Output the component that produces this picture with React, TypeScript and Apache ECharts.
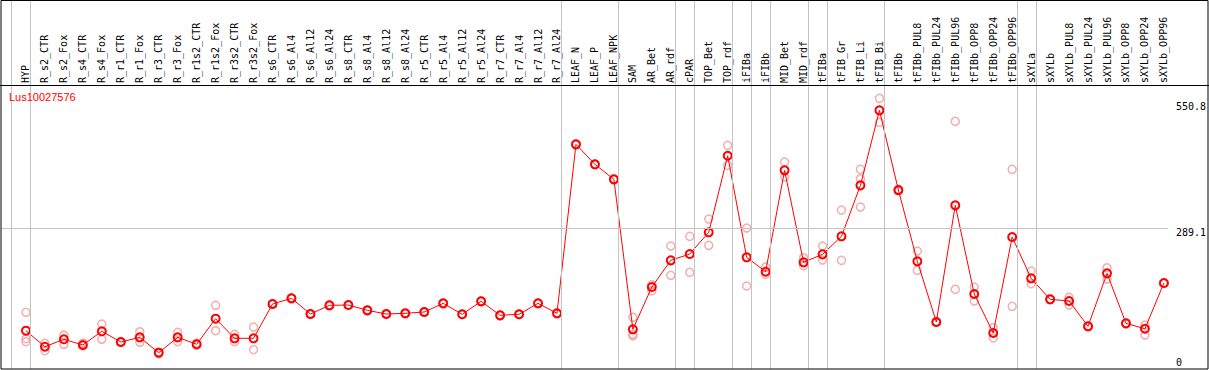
import React, { useEffect, useRef } from "react";
import * as echarts from "echarts";

const chartTitle = "Lus10027576";

const categories = [
  "HYP", "R_s2_CTR", "R_s2_Fox", "R_s4_CTR", "R_s4_Fox", "R_r1_CTR", "R_r1_Fox", "R_r3_CTR", "R_r3_Fox",
  "R_r1s2_CTR", "R_r1s2_Fox", "R_r3s2_CTR", "R_r3s2_Fox", "R_s6_CTR", "R_s6_Al4", "R_s6_Al12", "R_s6_Al24",
  "R_s8_CTR", "R_s8_Al4", "R_s8_Al12", "R_s8_Al24", "R_r5_CTR", "R_r5_Al4", "R_r5_Al12", "R_r5_Al24",
  "R_r7_CTR", "R_r7_Al4", "R_r7_Al12", "R_r7_Al24", "LEAF_N", "LEAF_P", "LEAF_NPK", "SAM", "AR_Bet", "AR_rdf",
  "cPAR", "TOP_Bet", "TOP_rdf", "iFIBa", "iFIBb", "MID_Bet", "MID_rdf", "tFIBa", "tFIB_Gr", "tFIB_Li", "tFIB_Bi",
  "tFIBb", "tFIBb_PUL8", "tFIBb_PUL24", "tFIBb_PUL96", "tFIBb_OPP8", "tFIBb_OPP24", "tFIBb_OPP96",
  "sXYLa", "sXYLb", "sXYLb_PUL8", "sXYLb_PUL24", "sXYLb_PUL96", "sXYLb_OPP8", "sXYLb_OPP24", "sXYLb_OPP96",
];

const meanValues = [
  60.7, 25.1, 41.6, 28.9, 59.4, 35.6, 46.0, 11.8, 46.0,
  30.5, 87.4, 43.8, 43.8, 120.1, 132.7, 97.8, 117.2,
  117.8, 106.0, 97.8, 99.4, 102.3, 121.6, 97.2, 126.1,
  94.9, 97.2, 121.6, 99.4, 475.1, 430.6, 397.3, 63.8, 157.8, 217.2,
  231.2, 279.5, 449.8, 223.9, 191.9, 417.3, 212.8, 230.5, 270.6, 383.9, 550.8,
  373.5, 215.0, 80.0, 339.5, 142.3, 55.6, 269.0,
  177.2, 130.5, 126.7, 70.5, 188.3, 77.1, 65.1, 166.7,
];

const replicateValues: number[][] = [
  [101.6, 42.9, 36.2], [32.7, 16.2], [51.1, 30.5], [33.3, 26.7], [75.6, 41.6], [34.5, 36.7], [58.5, 34.9], [13.3, 8.9], [57.1, 36.2],
  [33.3, 28.2], [117.2, 60.7], [52.7, 36.2], [68.9, 18.5], [119.2, 121.0], [131.8, 133.6], [97.0, 98.6], [116.3, 118.1],
  [117.0, 118.6], [105.2, 106.8], [97.0, 98.6], [98.6, 100.2], [101.5, 103.1], [120.8, 122.4], [96.4, 98.0], [125.3, 126.9],
  [94.1, 95.7], [96.4, 98.0], [120.8, 122.4], [98.6, 100.2], [474.3, 475.9], [429.8, 431.4], [396.5, 398.1], [90.5, 52.7, 48.9], [163.0, 149.6], [249.0, 183.9],
  [270.6, 190.5], [309.0, 250.6], [472.9, 428.4], [289.0, 160.1], [202.3, 186.1], [435.7, 402.4], [223.0, 205.2], [249.0, 217.9], [329.0, 217.2], [419.5, 398.6, 335.7], [577.4, 524.0],
  [375.0, 371.5], [237.9, 195.0], [79.2, 80.8], [526.2, 152.7], [157.8, 126.7], [67.4, 44.5], [419.5, 114.9],
  [193.4, 165.2], [129.7, 131.3], [134.9, 117.8], [69.7, 71.3], [200.8, 175.6], [76.3, 77.9], [73.4, 51.1], [165.9, 167.5],
];

// index of the last category of each group (a separator is drawn just after it)
const groupEnds = [-1, 0, 28, 31, 34, 35, 37, 38, 39, 41, 42, 45, 52, 53, 60];

const yTickValues = [0, 289.1, 550.8];
const yTickLabels = ["0", "289.1", "550.8"];

const MONO = "DejaVu Sans Mono";
const RED = "#ff0000";
const REP = "#f09a9a";
const GRID_GRAY = "#c4c4c4";

export default function App() {
  const ref = useRef<HTMLDivElement>(null);

  useEffect(() => {
    document.body.style.margin = "0";
    if (!ref.current) return;
    const chart = echarts.init(ref.current, undefined, { renderer: "svg" });

    const W = 1209;
    const H = 370;
    const plotLeft = 1;
    const plotRight = 1170;
    const step = 19;
    const firstX = 26;
    const zeroY = 358;
    const pxPerUnit = 130 / 289.1;

    const xMin = (plotLeft - firstX) / step;
    const xMax = (plotRight - firstX) / step;
    const yMin = -(H - 1 - zeroY) / pxPerUnit;
    const yMax = zeroY / pxPerUnit;

    const lineData = meanValues.map((v, i) => [i, v]);
    const repData: number[][] = [];
    replicateValues.forEach((arr, i) => arr.forEach((v) => repData.push([i, v])));

    const sepOffset = 4.7 / step;

    chart.setOption({
      animation: false,
      backgroundColor: "#ffffff",
      title: {
        text: chartTitle,
        left: 9,
        top: 91,
        padding: 0,
        textStyle: { color: RED, fontSize: 11, fontWeight: "normal", fontFamily: "Liberation Sans" },
      },
      grid: { left: plotLeft, right: W - plotRight, top: 0, bottom: H - 369, containLabel: false },
      xAxis: {
        type: "value",
        position: "top",
        offset: -85,
        min: xMin,
        max: xMax,
        axisLine: { show: false, onZero: false },
        axisTick: { show: false },
        splitLine: { show: false },
        axisLabel: {
          customValues: categories.map((_, i) => i),
          formatter: (v: number) => categories[Math.round(v)] ?? "",
          rotate: -90,
          align: "left",
          verticalAlign: "middle",
          margin: 2,
          color: "#000",
          fontFamily: MONO,
          fontSize: 10,
        },
      },
      yAxis: {
        type: "value",
        position: "right",
        min: yMin,
        max: yMax,
        axisLine: { show: false, onZero: false },
        axisTick: { show: false },
        splitLine: { show: false },
        axisLabel: {
          customValues: yTickValues,
          margin: 8,
          verticalAlign: "middle",
          color: "#000",
          fontFamily: MONO,
          fontSize: 10,
          formatter: (v: number) => {
            const idx = yTickValues.findIndex((t) => Math.abs(t - v) < 1e-6);
            const s = idx >= 0 ? yTickLabels[idx] : "";
            return idx === yTickValues.length - 1 ? `{hi|${s}}` : `{lo|${s}}`;
          },
          rich: {
            hi: { padding: [0, 0, 8, 0], fontFamily: MONO, fontSize: 10, color: "#000" },
            lo: { padding: [8, 0, 0, 0], fontFamily: MONO, fontSize: 10, color: "#000" },
          },
        },
      },
      series: [
        {
          type: "scatter",
          data: repData,
          symbol: "circle",
          symbolSize: 8,
          itemStyle: { color: "rgba(0,0,0,0)", borderColor: REP, borderWidth: 1.5 },
          emphasis: { disabled: true },
          silent: true,
          z: 2,
          markLine: {
            silent: true,
            symbol: ["none", "none"],
            label: { show: false },
            animation: false,
            lineStyle: { type: "solid", color: GRID_GRAY, width: 1 },
            data: [
              ...groupEnds.map((g) => ({ xAxis: g + sepOffset })),
              { yAxis: yTickValues[1] },
            ],
          },
        },
        {
          type: "line",
          data: lineData,
          symbol: "circle",
          symbolSize: 8,
          showAllSymbol: true,
          itemStyle: { color: "rgba(0,0,0,0)", borderColor: RED, borderWidth: 2 },
          lineStyle: { color: RED, width: 1 },
          emphasis: { disabled: true },
          silent: true,
          z: 3,
        },
      ],
      graphic: [
        {
          type: "rect",
          shape: { x: 1, y: 0.5, width: 1207, height: 368.5 },
          style: { fill: "none", stroke: "#000", lineWidth: 1 },
          silent: true,
          z: 10,
        },
        {
          type: "line",
          shape: { x1: 0, y1: 85.5, x2: W, y2: 85.5 },
          style: { stroke: "#000", lineWidth: 1 },
          silent: true,
          z: 10,
        },
      ],
    });

    return () => chart.dispose();
  }, []);

  return <div ref={ref} style={{ width: 1209, height: 370 }} />;
}
